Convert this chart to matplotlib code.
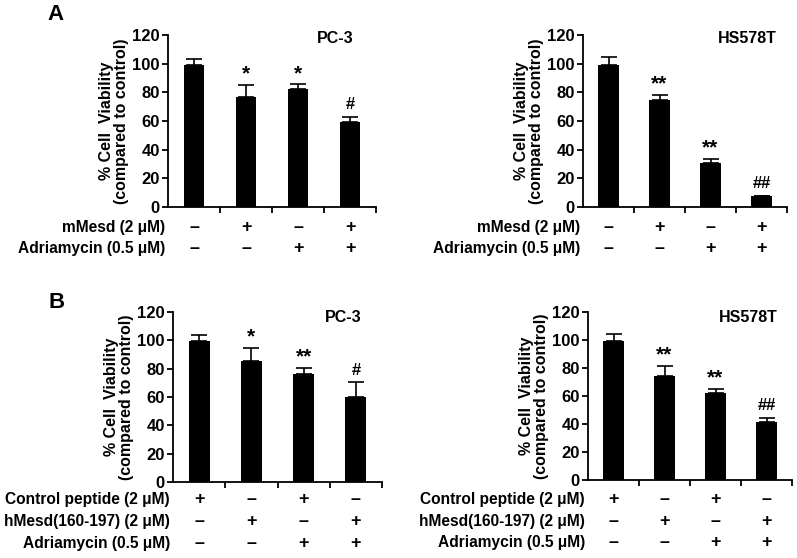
import numpy as np
import matplotlib
matplotlib.use("Agg")
import matplotlib.pyplot as plt

plt.rcParams['font.family'] = ['Liberation Sans', 'DejaVu Sans']
plt.rcParams['font.weight'] = 'bold'

# Panel A data
a_pc3_vals = [99, 77, 82, 59]
a_pc3_err = [4.5, 8, 3.5, 4]
a_pc3_marks = ['', '*', '*', '#']

a_hs_vals = [99, 74.5, 30.5, 8]
a_hs_err = [5.5, 3.5, 3, 0]
a_hs_marks = ['', '**', '**', '##']

# Panel B data
b_pc3_vals = [99.5, 85.5, 76, 60]
b_pc3_err = [4.5, 9, 4.5, 10.5]
b_pc3_marks = ['', '*', '**', '#']

b_hs_vals = [99.5, 74.5, 62, 41.5]
b_hs_err = [4.5, 7, 3, 3]
b_hs_marks = ['', '**', '**', '##']

a_rows = ['mMesd (2 \u03bcM)', 'Adriamycin (0.5 \u03bcM)']
a_signs = [['\u2013', '+', '\u2013', '+'],
           ['\u2013', '\u2013', '+', '+']]
b_rows = ['Control peptide (2 \u03bcM)', 'hMesd(160-197) (2 \u03bcM)', 'Adriamycin (0.5 \u03bcM)']
b_signs = [['+', '\u2013', '+', '\u2013'],
           ['\u2013', '+', '\u2013', '+'],
           ['\u2013', '\u2013', '+', '+']]

W, H = 797, 558
fig = plt.figure(figsize=(W / 100, H / 100), dpi=100)


def make_ax(x0, x1, ytop, ybot):
    return fig.add_axes([x0 / W, 1 - ybot / H, (x1 - x0) / W, (ybot - ytop) / H])


def draw_panel(ax, vals, errs, marks, title, title_pos, rows, signs, row_y):
    x = np.arange(len(vals))
    ax.bar(x, vals, width=0.4, color='black')
    ax.errorbar(x, vals, yerr=[np.zeros(len(errs)), errs], fmt='none',
                ecolor='black', elinewidth=1.2, capsize=5.5, capthick=1.2)
    for xi, v, e, m in zip(x, vals, errs, marks):
        if m:
            if '*' in m:
                ax.text(xi, v + e + 1, m, ha='center', va='bottom', fontsize=15)
            else:
                ax.text(xi, v + e + 3, m, ha='center', va='bottom', fontsize=12)
    ax.set_xlim(-0.5, 3.5)
    ax.set_ylim(0, 120)
    ax.set_yticks(range(0, 121, 20))
    ax.set_xticks([0.5, 1.5, 2.5, 3.5])
    ax.set_xticklabels([])
    ax.tick_params(axis='both', direction='out', length=4, width=1.3, labelsize=12, pad=2)
    for lab in ax.get_yticklabels():
        lab.set_fontweight('bold')
    ax.spines['top'].set_visible(False)
    ax.spines['right'].set_visible(False)
    ax.spines['left'].set_linewidth(1.3)
    ax.spines['bottom'].set_linewidth(1.3)
    ax.set_ylabel('% Cell  Viability\n(compared to control)', fontsize=11.5,
                  fontweight='bold', labelpad=2, linespacing=1.0)
    ax.text(title_pos[0], title_pos[1], title, transform=ax.transAxes, ha='right',
            va='center', fontsize=11.5, fontweight='bold')
    tr = ax.get_xaxis_transform()
    for r, (lab, sg) in enumerate(zip(rows, signs)):
        ax.text(-0.015, row_y[r], lab, transform=ax.transAxes, ha='right',
                va='center', fontsize=11.2, fontweight='bold')
        for xi, s in zip(x, sg):
            ax.text(xi, row_y[r], s, transform=tr, ha='center', va='center',
                    fontsize=13, fontweight='bold')


ax1 = make_ax(168, 376, 35, 207)
draw_panel(ax1, a_pc3_vals, a_pc3_err, a_pc3_marks, 'PC-3', (0.89, 0.98),
           a_rows, a_signs, [-0.12, -0.24])
ax2 = make_ax(583, 787, 35, 207)
draw_panel(ax2, a_hs_vals, a_hs_err, a_hs_marks, 'HS578T', (0.95, 0.98),
           a_rows, a_signs, [-0.12, -0.24])
ax3 = make_ax(173, 382, 312, 482)
draw_panel(ax3, b_pc3_vals, b_pc3_err, b_pc3_marks, 'PC-3', (0.90, 0.965),
           b_rows, b_signs, [-0.105, -0.235, -0.36])
ax4 = make_ax(588, 792, 312, 480)
draw_panel(ax4, b_hs_vals, b_hs_err, b_hs_marks, 'HS578T', (0.93, 0.965),
           b_rows, b_signs, [-0.115, -0.245, -0.37])

fig.text(47 / W, 1 - 15 / H, 'A', fontsize=16, fontweight='bold', va='center', ha='left')
fig.text(49 / W, 1 - 302 / H, 'B', fontsize=16, fontweight='bold', va='center', ha='left')

fig.savefig('out.png', dpi=100)
